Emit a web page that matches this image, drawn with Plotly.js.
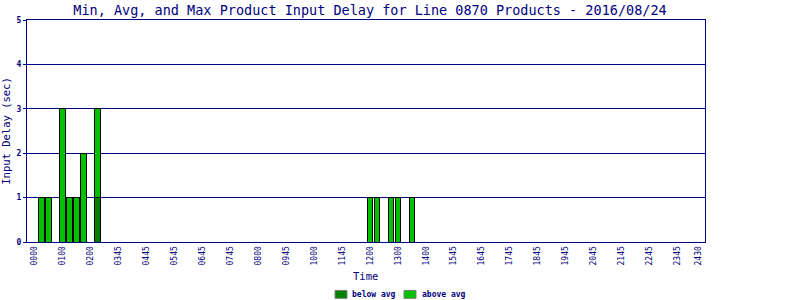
<!DOCTYPE html>
<html>
<head>
<meta charset="utf-8">
<script src="https://cdn.plot.ly/plotly-3.0.1.min.js"></script>
<style>
html,body{margin:0;padding:0;background:#fff;}
#chart{width:800px;height:300px;}
</style>
</head>
<body>
<div id="chart"></div>
<script>
// 15-minute slots (index along the day) that carry a bar
const barSlots   = [1, 2, 4, 5, 6, 7, 9, 48, 49, 51, 52, 54];
// stacked parts of each bar (seconds)
const belowAvg   = [0, 0, 0, 0, 0, 0, 1, 0, 0, 0, 0, 0];
const aboveAvg   = [1, 1, 3, 1, 1, 2, 2, 1, 1, 1, 1, 1];
// x-axis tick labels and the slots they sit on
const tickSlots  = [0, 4, 8, 12, 16, 20, 24, 28, 32, 36, 40, 44, 48, 52, 56, 60, 64, 68, 72, 76, 80, 84, 88, 92, 95];
const tickLabels = ["0000","0100","0200","0345","0445","0545","0645","0745","0800","0945","1000","1145",
                    "1200","1300","1400","1545","1645","1745","1845","1945","2045","2145","2245","2345","2430"];
const yTicks     = [0, 1, 2, 3, 4, 5];
const seriesNames  = ['below avg', 'above avg'];
const seriesColors = ['#008000', '#00c000'];

const NAVY = '#000080';
const MONO = '"DejaVu Sans Mono", "Liberation Mono", monospace';
const nz = a => a.map(v => v === 0 ? null : v);

// plot-area geometry (pixels) used to place the custom legend / x title
const M = {l: 27, r: 95, t: 20, b: 57.5};
const PW = 800 - M.l - M.r, PH = 300 - M.t - M.b;
const px = x => (x - M.l) / PW;
const py = y => (300 - M.b - y) / PH;

const traces = [belowAvg, aboveAvg].map((vals, i) => ({
  type: 'bar', name: seriesNames[i], x: barSlots, y: nz(vals),
  marker: {color: seriesColors[i], line: {color: '#000000', width: 1}},
  hoverinfo: 'skip', showlegend: false
}));

// legend drawn as swatches + text
const legendSwatchX = [335, 404];
const legendTextX   = [350, 420];
const shapes = seriesNames.map((n, i) => ({
  type: 'rect', xref: 'paper', yref: 'paper',
  x0: px(legendSwatchX[i]), x1: px(legendSwatchX[i] + 12),
  y0: py(299), y1: py(291),
  fillcolor: seriesColors[i], line: {color: '#808080', width: 1}
}));
const annotations = seriesNames.map((n, i) => ({
  xref: 'paper', yref: 'paper', x: px(legendTextX[i]), y: py(295),
  xanchor: 'left', yanchor: 'middle', showarrow: false, text: n,
  font: {family: MONO, size: 8, color: NAVY, weight: 'bold'}
}));
annotations.push({
  xref: 'paper', yref: 'paper', x: px(365), y: py(277),
  xanchor: 'center', yanchor: 'middle', showarrow: false, text: 'Time',
  font: {family: MONO, size: 10.5, color: NAVY}
});

const layout = {
  width: 800, height: 300,
  paper_bgcolor: '#ffffff', plot_bgcolor: '#ffffff',
  margin: {l: M.l, r: M.r, t: M.t, b: M.b, pad: 0},
  barmode: 'stack',
  bargap: 0.16,
  showlegend: false,
  title: {
    text: 'Min, Avg, and Max Product Input Delay for Line 0870 Products - 2016/08/24',
    font: {family: MONO, size: 13.5, color: NAVY},
    x: 0.4625, xanchor: 'center', xref: 'container',
    y: 0.965, yanchor: 'middle', yref: 'container'
  },
  xaxis: {
    range: [-1.04, 95.9],
    tickmode: 'array', tickvals: tickSlots, ticktext: tickLabels,
    tickangle: -90,
    tickfont: {family: MONO, size: 8, color: NAVY},
    ticks: '', ticklen: 0,
    showgrid: false, zeroline: false,
    showline: true, linecolor: NAVY, linewidth: 1, mirror: true,
    automargin: false,
    fixedrange: true
  },
  yaxis: {
    range: [0, 5],
    tickmode: 'array', tickvals: yTicks,
    tickfont: {family: MONO, size: 8, color: NAVY, weight: 'bold'},
    ticks: 'outside', ticklen: 3, tickcolor: NAVY,
    showgrid: true, gridcolor: NAVY, gridwidth: 1,
    zeroline: false,
    showline: true, linecolor: NAVY, linewidth: 1, mirror: true,
    automargin: false,
    title: {text: 'Input Delay (sec)', font: {family: MONO, size: 10.5, color: NAVY}, standoff: 4},
    fixedrange: true
  },
  shapes: shapes,
  annotations: annotations,
  font: {family: MONO, color: NAVY}
};

Plotly.newPlot('chart', traces, layout, {displayModeBar: false, staticPlot: true});
</script>
</body>
</html>
